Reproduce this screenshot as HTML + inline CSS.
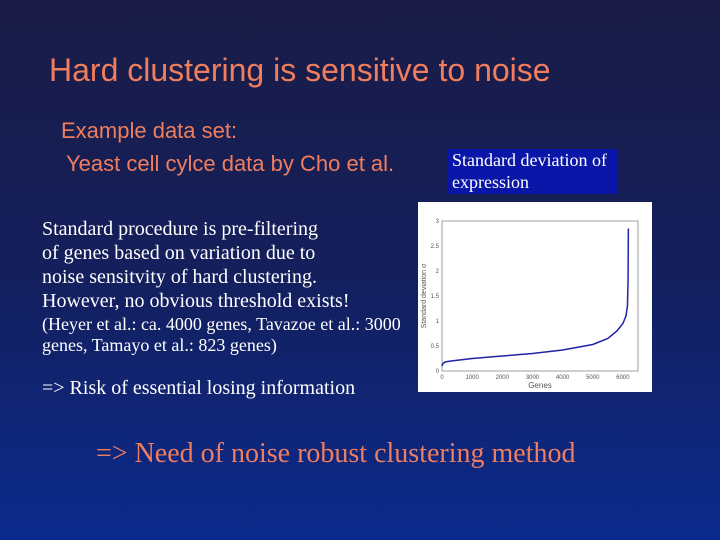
<!DOCTYPE html>
<html><head><meta charset="utf-8"><style>
body{margin:0;width:720px;height:540px;overflow:hidden;background:linear-gradient(#1a1c46 0%,#141f5c 50%,#0b2a8c 100%);font-family:"Liberation Sans",sans-serif;position:relative}
.t{position:absolute;white-space:nowrap}
.serif{font-family:"Liberation Serif",serif;color:#fff}
</style></head><body>
<div class="t" style="left:49px;top:52px;font-size:32px;color:#f07e5e">Hard clustering is sensitive to noise</div>
<div class="t" style="left:61px;top:118px;font-size:22px;color:#f07e5e">Example data set:</div>
<div class="t" style="left:66px;top:151px;font-size:22px;color:#f07e5e">Yeast cell cylce data by Cho et al.</div>
<div class="t serif" style="left:448px;top:149px;width:169px;height:45px;background:#0a16a8;font-size:18px;line-height:22px;padding:0 4px;box-sizing:border-box;white-space:normal">Standard deviation of expression</div>
<div class="t serif" style="left:42px;top:217px;font-size:20px;line-height:24px">Standard procedure is pre-filtering<br>of genes based on variation due to<br>noise sensitvity of hard clustering.<br>However, no obvious threshold exists!</div>
<div class="t serif" style="left:42px;top:314px;font-size:18px;line-height:21px">(Heyer et al.: ca. 4000 genes, Tavazoe et al.: 3000<br>genes, Tamayo et al.: 823 genes)</div>
<div class="t serif" style="left:42px;top:377px;font-size:20px">=&gt; Risk of essential losing information</div>
<div class="t" style="left:96px;top:438px;font-size:28px;color:#f07e5e;font-family:'Liberation Serif',serif">=&gt; Need of noise robust clustering method</div>
<svg id="chart" style="position:absolute;left:418px;top:202px" width="234" height="190"></svg>
<script>
const genes=[0,30,100,300,1000,2000,3000,4000,5000,5500,5800,6000,6100,6150,6170,6180];
const stdev=[0.1,0.15,0.18,0.2,0.25,0.3,0.35,0.42,0.53,0.65,0.8,0.95,1.1,1.3,1.8,2.85];
const xTicks=[0,1000,2000,3000,4000,5000,6000];
const xLabels=["0","1000","2000","3000","4000","5000","6000"];
const yTicks=[0,0.5,1,1.5,2,2.5,3];
const ns="http://www.w3.org/2000/svg";
const svg=document.getElementById('chart');
const L=24,R=220,T=19,B=169;
const X=v=>L+v/6500*(R-L), Y=v=>B-v/3*(B-T);
function mk(tag,attrs){const e=document.createElementNS(ns,tag);for(const k in attrs)e.setAttribute(k,attrs[k]);svg.appendChild(e);return e;}
const bg=mk('rect',{x:0,y:0,width:234,height:190,fill:'#fff'});


const ax=mk('rect',{x:L,y:T,width:R-L,height:B-T,fill:'none',stroke:'#888','stroke-width':0.8});


xTicks.forEach((v,i)=>{const t=mk('text',{x:X(v),y:B+8,'font-size':6,'text-anchor':'middle',fill:'#555','font-family':'Liberation Sans'});t.textContent=xLabels[i];

});
yTicks.forEach(v=>{const t=mk('text',{x:L-3,y:Y(v)+2,'font-size':6,'text-anchor':'end',fill:'#555','font-family':'Liberation Sans'});t.textContent=String(v);

});
const xt=mk('text',{x:(L+R)/2,y:B+17,'font-size':8,'text-anchor':'middle',fill:'#555','font-family':'Liberation Sans'});xt.textContent='Genes';


const yt=mk('text',{x:8,y:(T+B)/2,'font-size':7,'text-anchor':'middle',fill:'#555','font-family':'Liberation Sans',transform:`rotate(-90 8 ${(T+B)/2})`});yt.textContent='Standard deviation σ';


const line=mk('polyline',{points:genes.map((g,i)=>X(g)+','+Y(stdev[i])).join(' '),fill:'none',stroke:'#2222aa','stroke-width':1.5});


</script>
</body></html>
